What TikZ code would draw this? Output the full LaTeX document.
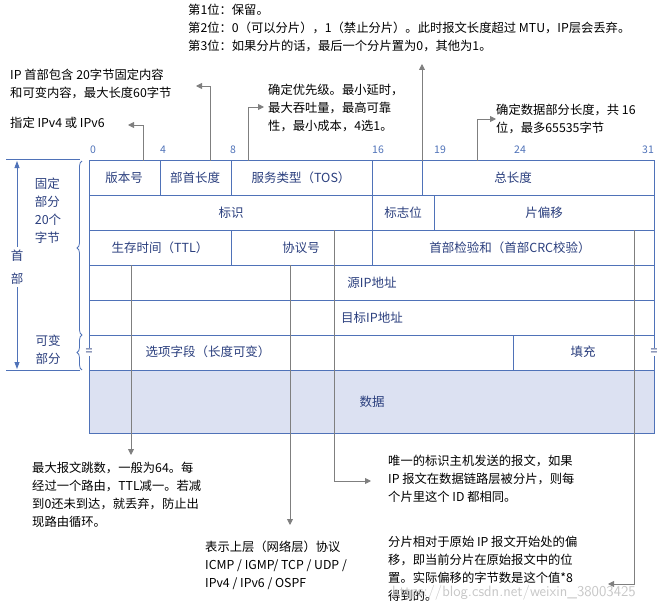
\documentclass[tikz,border=0pt]{standalone}
\usepackage{fontspec}
\setmainfont{Noto Sans CJK SC}
\usetikzlibrary{arrows.meta,decorations.pathreplacing}
\definecolor{bl}{HTML}{4F72B8}
\definecolor{tx}{HTML}{2B3F7E}
\definecolor{gr}{HTML}{7F7F7F}
\definecolor{dat}{HTML}{DCE1F2}
\tikzset{
 x=1pt,y=-1pt,
 cell/.style={draw=bl,line width=1pt,fill=white},
 ctext/.style={text=tx,font=\fontsize{12.5}{14}\selectfont,inner sep=0pt},
 num/.style={text=bl,font=\fontsize{10.5}{12}\selectfont,inner sep=0pt},
 note/.style={font=\fontsize{12.3}{18}\selectfont,inner sep=0pt,anchor=north west,align=left},
 gline/.style={draw=gr,line width=0.9pt},
 garr/.style={gline,-{Triangle[length=6pt,width=6pt]}}
}
\begin{document}
\begin{tikzpicture}
\useasboundingbox (0,0) rectangle (665,610);
% rows
\draw[cell] (89,161) rectangle (160,195); \node[ctext] (v) at (124,178) {版本号};
\draw[cell] (160,161) rectangle (231,195); \node[ctext] (hl) at (195,178) {部首长度};
\draw[cell] (231,161) rectangle (372,195); \node[ctext] (tos) at (301,178) {服务类型（TOS）};
\draw[cell] (372,161) rectangle (422,195);
\draw[cell] (422,161) rectangle (654,195); \node[ctext] (tl) at (513,178) {总长度};
\draw[cell] (89,195) rectangle (372,230); \node[ctext] (id) at (231,213) {标识};
\draw[cell] (372,195) rectangle (434,230); \node[ctext] (fl) at (403,213) {标志位};
\draw[cell] (434,195) rectangle (654,230); \node[ctext] (fo) at (544,213) {片偏移};
\draw[cell] (89,230) rectangle (231,265); \node[ctext] (ttl) at (160,248) {生存时间（TTL）};
\draw[cell] (231,230) rectangle (372,265); \node[ctext] (pr) at (301,248) {协议号};
\draw[cell] (372,230) rectangle (654,265); \node[ctext] (cs) at (510,248) {首部检验和（首部CRC校验）};
\draw[cell] (89,265) rectangle (654,300); \node[ctext] (src) at (372,283) {源IP地址};
\draw[cell] (89,300) rectangle (654,335); \node[ctext] (dst) at (372,318) {目标IP地址};
\draw[cell] (89,335) rectangle (654,370);
\draw[bl,line width=1pt] (513,335) -- (513,370);
\node[ctext] (opt) at (208,352) {选项字段（长度可变）};
\node[ctext] (pad) at (583,352) {填充};
\draw[cell,fill=dat] (89,370) rectangle (654,433); \node[ctext] (data) at (372,402) {数据};
\node[ctext,fill=white,inner sep=1pt] (eq1) at (89,352) {=};
\node[ctext,fill=white,inner sep=1pt] (eq2) at (654,352) {=};
% grey tracer lines
\coordinate (t131) at (131,265); \coordinate (b131) at (131,455);
\coordinate (t290) at (290,265); \coordinate (b290) at (290,525);
\coordinate (t334) at (334,230); \coordinate (c334) at (334,481); \coordinate (e334) at (371,481);
\coordinate (t634) at (634,230); \coordinate (c634) at (634,584); \coordinate (e634) at (608,584);
\draw[garr] (t131) -- (b131);
\draw[garr] (t290) -- (b290);
\draw[garr] (t334) -- (c334) -- (e334);
\draw[garr] (t634) -- (c634) -- (e634);
% top ticks
\coordinate (a1) at (143,161); \coordinate (a1b) at (143,125); \coordinate (a1c) at (128,125);
\coordinate (a2) at (210,161); \coordinate (a2b) at (210,86); \coordinate (a2c) at (196,86);
\coordinate (a3) at (248,161); \coordinate (a3b) at (248,107); \coordinate (a3c) at (264,107);
\coordinate (a4) at (422,161); \coordinate (a4b) at (422,64);
\coordinate (a5) at (477,161); \coordinate (a5b) at (477,119); \coordinate (a5c) at (496,119);
\draw[garr] (a1) -- (a1b) -- (a1c);
\draw[garr] (a2) -- (a2b) -- (a2c);
\draw[garr] (a3) -- (a3b) -- (a3c);
\draw[garr] (a4) -- (a4b);
\draw[garr] (a5) -- (a5b) -- (a5c);
% bit numbers
\node[num] (n0) at (93,150) {0};
\node[num] (n4) at (163,150) {4};
\node[num] (n8) at (233,150) {8};
\node[num] (n16) at (378,150) {16};
\node[num] (n19) at (440,150) {19};
\node[num] (n24) at (520,150) {24};
\node[num] (n31) at (648,150) {31};
% left side
\coordinate (l1) at (6,160); \coordinate (l1e) at (80,160);
\coordinate (l2) at (6,370); \coordinate (l2e) at (80,370);
\draw[bl,line width=1pt] (l1) -- (l1e); \draw[bl,line width=1pt] (l2) -- (l2e);
\node[ctext,align=center,font=\fontsize{12.5}{23}\selectfont,fill=white,inner ysep=3pt] (hd) at (17,267) {首\\部};
\coordinate (v1) at (17,161); \coordinate (v2) at (17,369);
\draw[bl,line width=0.8pt,-{Triangle[length=7pt,width=5pt]}] (hd) -- (v1);
\draw[bl,line width=0.8pt,-{Triangle[length=7pt,width=5pt]}] (hd) -- (v2);
\draw[bl,line width=0.8pt,decorate,decoration={brace,amplitude=5pt}] (82,335) -- (82,161);
\draw[bl,line width=0.8pt,decorate,decoration={brace,amplitude=5pt}] (82,370) -- (82,335);
\node[ctext,align=left,font=\fontsize{12.5}{18}\selectfont] (fix) at (48,211) {固定\\部分\\20个\\字节};
\node[ctext,align=left,font=\fontsize{12.5}{18}\selectfont] (var) at (48,350) {可变\\部分};
% notes
\node[note] (nf) at (188,4) {第1位：保留。\\第2位：0（可以分片），1（禁止分片）。此时报文长度超过 MTU，IP层会丢弃。\\第3位：如果分片的话，最后一个分片置为0，其他为1。};
\node[note] (nh) at (10,69) {IP 首部包含 20字节固定内容\\和可变内容，最大长度60字节};
\node[note] (nv) at (10,117) {指定 IPv4 或 IPv6};
\node[note] (nt) at (268,84) {确定优先级。最小延时，\\最大吞吐量，最高可靠\\性，最小成本，4选1。};
\node[note] (nl) at (496,104) {确定数据部分长度，共 16\\位，最多65535字节};
\node[note] (nttl) at (32,462) {最大报文跳数，一般为64。每\\经过一个路由，TTL减一。若减\\到0还未到达，就丢弃，防止出\\现路由循环。};
\node[note] (np) at (205,541) {表示上层（网络层）协议\\ICMP / IGMP/ TCP / UDP /\\IPv4 / IPv6 / OSPF};
\node[note] (ni) at (388,455) {唯一的标识主机发送的报文，如果\\IP 报文在数据链路层被分片，则每\\个片里这个 ID 都相同。};
\node[note] (no) at (388,536) {分片相对于原始 IP 报文开始处的偏\\移，即当前分片在原始报文中的位\\置。实际偏移的字节数是这个值*8\\得到的。};
\node[text=black!22,font=\fontsize{15}{16}\selectfont\sffamily,anchor=west,inner sep=0pt] (wm) at (392,593) {https://blog.csdn.net/weixin\_38003425};
\end{tikzpicture}
\end{document}
